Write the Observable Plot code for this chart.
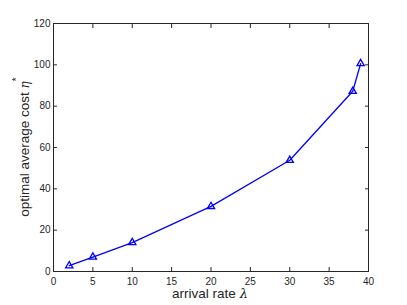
<!DOCTYPE html>
<html><head><meta charset="utf-8">
<script src="https://cdn.jsdelivr.net/npm/d3@7"></script>
<script src="https://cdn.jsdelivr.net/npm/@observablehq/plot@0.6"></script>
<style>body{margin:0;background:#fff;} svg{display:block;}</style>
</head><body><div id="chart"></div>
<script>
const rates = [2, 5, 10, 20, 30, 38, 39];
const costs = [2.8, 7.0, 14.0, 31.5, 53.8, 87.2, 100.6];
const xTicks = [0, 5, 10, 15, 20, 25, 30, 35, 40];
const yTicks = [0, 20, 40, 60, 80, 100, 120];
const xLabel = "arrival rate ";
const xSym = "λ";
const yLabel = "optimal average cost ";
const ySym = "η";
const ySup = "*";

const data = rates.map((r, i) => ({r, c: costs[i]}));
const ink = "#262626";
const blue = "#0000ff";

const chart = Plot.plot({
  width: 407, height: 305,
  marginLeft: 53, marginRight: 39, marginTop: 23, marginBottom: 34,
  style: {fontFamily: "'Liberation Sans', Arial, sans-serif", fontSize: "10px", color: ink, background: "#fff"},
  x: {domain: [0, 40]},
  y: {domain: [0, 120]},
  marks: [
    Plot.frame({stroke: ink, strokeWidth: 1}),
    Plot.axisX(xTicks, {anchor: "bottom", tickSize: -4, tickPadding: 10, label: null, stroke: ink, fill: ink}),
    Plot.axisX(xTicks, {anchor: "top", tickSize: -4, tickFormat: () => "", label: null, stroke: ink}),
    Plot.axisY(yTicks, {anchor: "left", tickSize: -4, tickPadding: 7, label: null, stroke: ink, fill: ink}),
    Plot.axisY(yTicks, {anchor: "right", tickSize: -4, tickFormat: () => "", label: null, stroke: ink}),
    Plot.line(data, {x: "r", y: "c", stroke: blue, strokeWidth: 1.3}),
    Plot.dot(data, {x: "r", y: "c", symbol: "triangle", r: 2.7, stroke: blue, strokeWidth: 1.3, fill: "none"})
  ]
});
document.getElementById("chart").append(chart);

const svg = d3.select(chart);
const xt = svg.append("text")
  .attr("x", 210).attr("y", 298)
  .attr("text-anchor", "middle")
  .attr("font-family", "'Liberation Sans', Arial, sans-serif")
  .attr("font-size", 13.5).attr("fill", ink);
xt.append("tspan").text(xLabel);
xt.append("tspan").attr("font-family", "'DejaVu Serif', serif").attr("font-style", "italic").attr("font-size", 13).text(xSym);

const yt = svg.append("text")
  .attr("transform", "translate(28.5,147) rotate(-90)")
  .attr("text-anchor", "middle")
  .attr("font-family", "'Liberation Sans', Arial, sans-serif")
  .attr("font-size", 13.5).attr("fill", ink);
yt.append("tspan").text(yLabel);
yt.append("tspan").attr("font-family", "'DejaVu Serif', serif").attr("font-style", "italic").attr("font-size", 12).text(ySym);
yt.append("tspan").attr("dy", -9).attr("font-size", 10).text(ySup);
</script>
</body></html>
